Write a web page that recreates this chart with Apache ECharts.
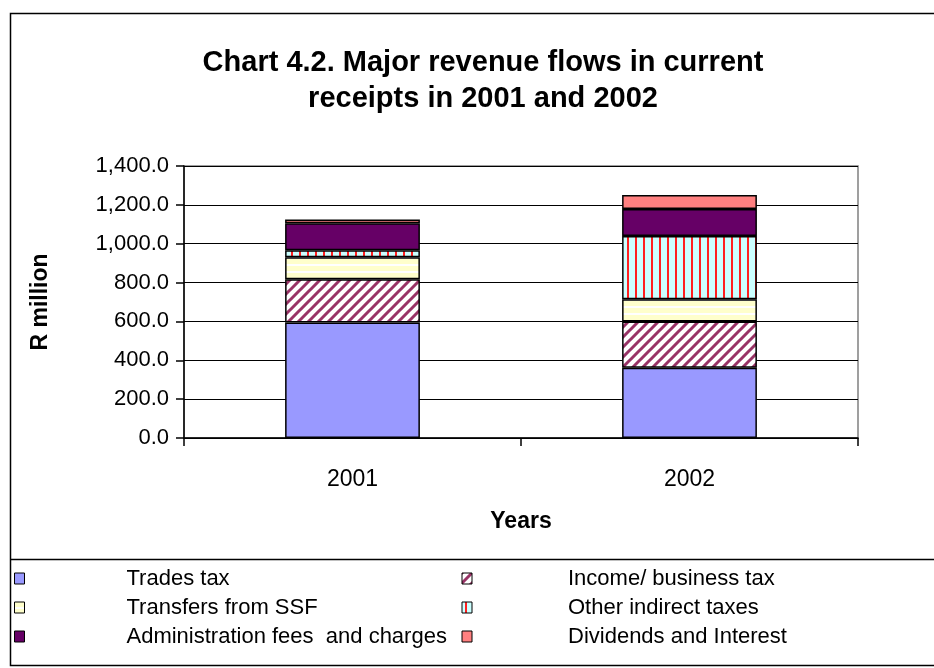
<!DOCTYPE html>
<html>
<head>
<meta charset="utf-8">
<script src="https://cdn.jsdelivr.net/npm/echarts@6/dist/echarts.min.js"></script>
<style>
  html, body { margin: 0; padding: 0; background: #fff; }
  #chart { width: 934px; height: 668px; }
</style>
</head>
<body>
<div id="chart"></div>
<script>
// Years on the category axis
const years = ['2001', '2002'];

// Revenue flows, R million (stacked bottom to top)
const tradesTax = [595, 362];
const incomeBusinessTax = [222, 237];
const transfersSSF = [113, 115];
const otherIndirectTaxes = [36, 326];
const adminFees = [139, 139];
const dividendsInterest = [20, 72];

const seriesNames = [
  'Trades tax',
  'Income/ business tax',
  'Transfers from SSF',
  'Other indirect taxes',
  'Administration fees  and charges',
  'Dividends and Interest'
];

// Y-axis ticks
const yTicks = [0, 200, 400, 600, 800, 1000, 1200, 1400];

const FONT = '"Liberation Sans", Arial, sans-serif';

// Hatched fills
function diagonalPattern() {
  const c = document.createElement('canvas');
  c.width = 10; c.height = 10;
  const g = c.getContext('2d');
  g.fillStyle = '#ffffff';
  g.fillRect(0, 0, 10, 10);
  g.strokeStyle = '#993366';
  g.lineWidth = 3;
  g.beginPath();
  g.moveTo(-5, 5); g.lineTo(5, -5);
  g.moveTo(0, 10); g.lineTo(10, 0);
  g.moveTo(5, 15); g.lineTo(15, 5);
  g.stroke();
  return c;
}
function horizontalPattern() {
  const c = document.createElement('canvas');
  c.width = 4; c.height = 7;
  const g = c.getContext('2d');
  g.fillStyle = '#ffffcc';
  g.fillRect(0, 0, 4, 7);
  g.fillStyle = '#ffffff';
  g.fillRect(0, 5, 4, 2);
  return c;
}
function verticalPattern() {
  const c = document.createElement('canvas');
  c.width = 8; c.height = 4;
  const g = c.getContext('2d');
  g.fillStyle = '#ccffff';
  g.fillRect(0, 0, 8, 4);
  g.fillStyle = '#ff2020';
  g.fillRect(3, 0, 2, 4);
  return c;
}

const fills = [
  '#9999ff',
  { image: diagonalPattern(), repeat: 'repeat' },
  { image: horizontalPattern(), repeat: 'repeat' },
  { image: verticalPattern(), repeat: 'repeat' },
  '#660066',
  '#ff8080'
];
const values = [tradesTax, incomeBusinessTax, transfersSSF, otherIndirectTaxes, adminFees, dividendsInterest];

const chart = echarts.init(document.getElementById('chart'), null, { renderer: 'canvas' });

// Legend runs in two columns: left column entries get a wider gap before the text
const leftColumn = new Set(seriesNames.filter((_, i) => i % 2 === 0));

const option = {
  animation: false,
  backgroundColor: '#ffffff',
  title: {
    text: 'Chart 4.2. Major revenue flows in current\nreceipts in 2001 and 2002',
    left: 478,
    textAlign: 'center',
    top: 40,
    textStyle: {
      fontFamily: FONT,
      fontWeight: 'bold',
      fontSize: 29,
      lineHeight: 36,
      color: '#000'
    }
  },
  grid: {
    left: 184,
    right: 76,
    top: 166,
    bottom: 230,
    show: true,
    borderColor: '#808080',
    borderWidth: 1.5,
    containLabel: false
  },
  legend: {
    left: 9,
    top: 561,
    width: 915,
    orient: 'horizontal',
    itemGap: 4,
    itemWidth: 10,
    itemHeight: 11,
    icon: 'rect',
    selectedMode: false,
    itemStyle: { borderColor: '#000', borderWidth: 1 },
    data: seriesNames,
    formatter: name => leftColumn.has(name)
      ? '{padL|}{tL|' + name + '}'
      : '{padR|}{tR|' + name + '}',
    textStyle: {
      fontFamily: FONT,
      fontSize: 22,
      color: '#000',
      lineHeight: 25,
      rich: {
        padL: { width: 97 },
        tL: { width: 331, fontFamily: FONT, fontSize: 22, lineHeight: 25 },
        padR: { width: 91 },
        tR: { width: 300, fontFamily: FONT, fontSize: 22, lineHeight: 25 }
      }
    }
  },
  xAxis: {
    type: 'category',
    data: years,
    boundaryGap: true,
    name: 'Years',
    nameLocation: 'middle',
    nameGap: 72,
    nameTextStyle: { fontFamily: FONT, fontWeight: 'bold', fontSize: 23, color: '#000' },
    axisLine: { lineStyle: { color: '#000', width: 1.5 } },
    axisTick: { show: true, length: 8, lineStyle: { color: '#000', width: 1.5 } },
    axisLabel: { fontFamily: FONT, fontSize: 23, color: '#000', margin: 30 },
    splitLine: { show: false }
  },
  yAxis: {
    type: 'value',
    min: yTicks[0],
    max: yTicks[yTicks.length - 1],
    interval: yTicks[1] - yTicks[0],
    name: 'R million',
    nameLocation: 'middle',
    nameGap: 132,
    nameRotate: 90,
    nameTextStyle: { fontFamily: FONT, fontWeight: 'bold', fontSize: 23, color: '#000' },
    axisLine: { show: true, lineStyle: { color: '#000', width: 1.5 } },
    axisTick: { show: true, length: 8, lineStyle: { color: '#000', width: 1.5 } },
    axisLabel: {
      fontFamily: FONT, fontSize: 22, color: '#000', margin: 15,
      formatter: v => v.toLocaleString('en-US', { minimumFractionDigits: 1, maximumFractionDigits: 1 })
    },
    splitLine: { show: true, lineStyle: { color: '#000', width: 1.2 } }
  },
  series: seriesNames.map((name, i) => ({
    name,
    type: 'bar',
    stack: 'total',
    barWidth: '40%',
    data: values[i],
    itemStyle: { color: fills[i], borderColor: '#000', borderWidth: 1.5 }
  })),
  graphic: [
    {
      type: 'rect',
      silent: true,
      z: 100,
      shape: { x: 10.5, y: 13.5, width: 940, height: 652 },
      style: { fill: null, stroke: '#000', lineWidth: 1.5 }
    },
    {
      type: 'line',
      silent: true,
      z: 100,
      shape: { x1: 10, y1: 559.5, x2: 934, y2: 559.5 },
      style: { stroke: '#000', lineWidth: 1.5 }
    }
  ]
};

chart.setOption(option);
</script>
</body>
</html>
